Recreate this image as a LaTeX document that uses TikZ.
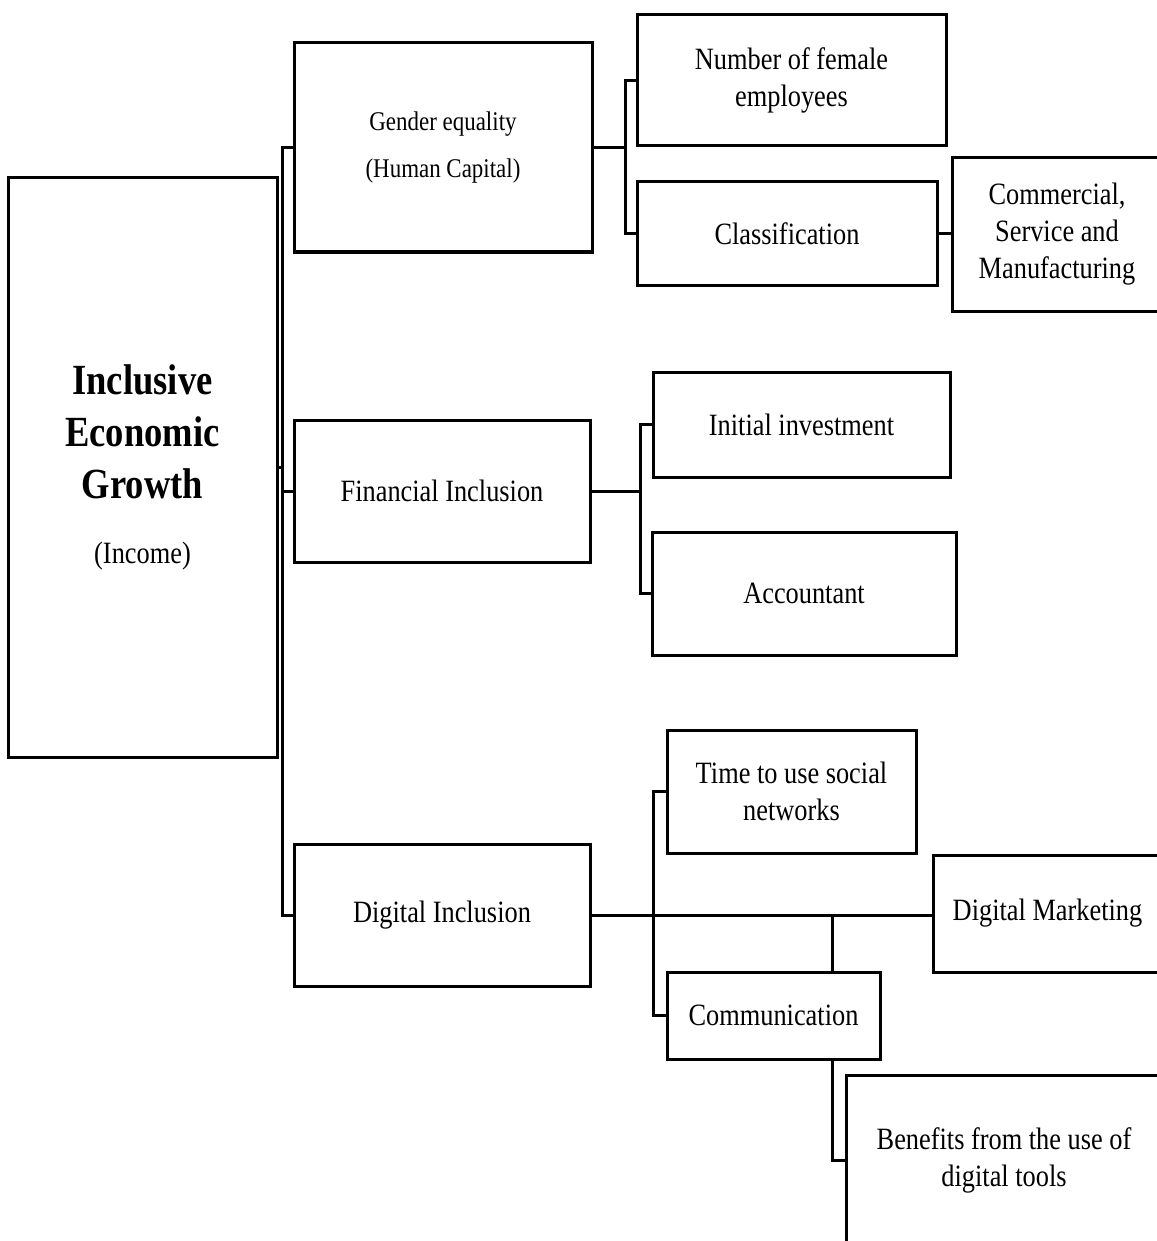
\documentclass[tikz,border=0pt]{standalone}
\usepackage{fontspec}
\setmainfont{Liberation Serif}[FakeStretch=0.85]
\begin{document}
\begin{tikzpicture}[x=1pt,y=-1pt,
  box/.style={draw=black, line width=3pt, fill=white, align=center, inner sep=0pt,
    font=\fontsize{31}{37}\selectfont},
  conn/.style={draw=black, line width=3pt}]
\useasboundingbox[fill=white] (0,0) rectangle (1156,1241);
\coordinate (b1) at (282,0);
\coordinate (b2) at (625,0);
\coordinate (b3) at (640,0);
\coordinate (b4) at (653,0);
\coordinate (b5) at (832,0);
% boxes
\node[box, minimum width=269pt, minimum height=579pt, font=\fontsize{43}{52}\selectfont\bfseries] (main) at (142.5,467.5)
  {Inclusive\\Economic\\Growth\\[13pt]{\mdseries\fontsize{31}{37}\selectfont (Income)}};
\node[box, minimum width=298pt, minimum height=209pt, font=\fontsize{27}{47}\selectfont] (gender) at (443,147.5) {Gender equality\\(Human Capital)};
\node[box, minimum width=296pt, minimum height=142pt] (fin) at (442,491) {Financial Inclusion};
\node[box, minimum width=296pt, minimum height=142pt] (dig) at (442,915) {Digital Inclusion};
\node[box, minimum width=309pt, minimum height=131pt] (nfe) at (791.5,80.5) {Number of female\\employees};
\node[box, minimum width=300pt, minimum height=103pt] (cls) at (787,233.5) {Classification};
\node[box, minimum width=210pt, minimum height=153pt] (com) at (1057,234.5) {Commercial,\\Service and\\Manufacturing};
\node[box, minimum width=297pt, minimum height=105pt] (ini) at (801.5,424.5) {Initial investment};
\node[box, minimum width=304pt, minimum height=123pt] (acc) at (804,593.5) {Accountant};
\node[box, minimum width=249pt, minimum height=123pt] (tus) at (791.5,791.5) {Time to use social\\networks};
\node[box, minimum width=229pt, minimum height=117pt] (dm) at (1047.5,913.5) {Digital Marketing};
\node[box, minimum width=213pt, minimum height=87pt] (cm) at (773.5,1015.5) {Communication};
\node[box, minimum width=316pt, minimum height=170pt] (ben) at (1004,1160) {Benefits from the use of\\digital tools};
% level 1
\draw[conn] (main.east) -- (main.east -| b1);
\draw[conn] (gender.west) -- (gender.west -| b1) -- (dig.west -| b1) -- (dig.west);
\draw[conn] (fin.west) -- (fin.west -| b1);
% gender branch
\draw[conn] (gender.east) -- (gender.east -| b2);
\draw[conn] (nfe.west) -- (nfe.west -| b2) -- (cls.west -| b2) -- (cls.west);
\draw[conn] (cls.east) -- (cls.east -| com.west);
% financial branch
\draw[conn] (fin.east) -- (fin.east -| b3);
\draw[conn] (ini.west) -- (ini.west -| b3) -- (acc.west -| b3) -- (acc.west);
% digital branch
\draw[conn] (dig.east) -- (dig.east -| dm.west);
\draw[conn] (tus.west) -- (tus.west -| b4) -- (cm.west -| b4) -- (cm.west);
\draw[conn] (b5 |- dig.east) -- (b5 |- cm.north);
\draw[conn] (b5 |- cm.south) -- (b5 |- ben.west) -- (ben.west);
\end{tikzpicture}
\end{document}
